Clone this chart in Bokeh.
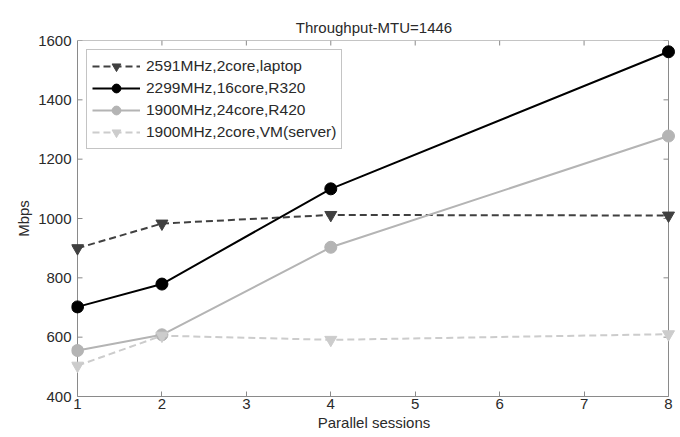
import math
from bokeh.plotting import figure
from bokeh.models import Range1d, FixedTicker, Legend, LegendItem
from bokeh.embed import file_html
from bokeh.resources import INLINE

sessions = [1, 2, 4, 8]
laptop = [900, 983, 1012, 1010]
r320 = [702, 779, 1100, 1562]
r420 = [555, 608, 903, 1278]
vm = [504, 605, 591, 610]

labels = ["2591MHz,2core,laptop", "2299MHz,16core,R320",
          "1900MHz,24core,R420", "1900MHz,2core,VM(server)"]
x_ticks = [1, 2, 3, 4, 5, 6, 7, 8]
y_ticks = [400, 600, 800, 1000, 1200, 1400, 1600]
x_lo, x_hi = 1, 8
y_lo, y_hi = 400, 1600

FONT = "Liberation Sans"
AX = "#8a8a8a"
TXT = "#2a2a2a"

# the frame is a few px wider than the axis box so edge markers are not clipped
PAD_L_PX, PAD_R_PX = 6, 8
BOX_PX = 591
unit = (x_hi - x_lo) / BOX_PX

p = figure(width=680, height=436, output_backend="svg", toolbar_location=None,
           x_range=Range1d(x_lo - PAD_L_PX * unit, x_hi + PAD_R_PX * unit),
           y_range=Range1d(y_lo, y_hi),
           min_border_left=71, min_border_right=4, min_border_top=40, min_border_bottom=40)
p.title.text = "Throughput-MTU=1446"
p.title.align = "center"
p.title.text_font = FONT
p.title.text_font_size = "15px"
p.title.text_font_style = "normal"
p.title.text_color = TXT
p.title.offset = 0
p.grid.visible = False
p.outline_line_color = None
p.background_fill_color = "white"

for ax in (p.xaxis[0], p.yaxis[0]):
    ax.axis_line_color = AX
    ax.major_tick_line_color = AX
    ax.major_tick_in = 5
    ax.major_tick_out = 0
    ax.minor_tick_line_color = None
    ax.major_label_text_font = FONT
    ax.major_label_text_font_size = "15px"
    ax.major_label_text_color = TXT
    ax.axis_label_text_font = FONT
    ax.axis_label_text_font_size = "15px"
    ax.axis_label_text_font_style = "normal"
    ax.axis_label_text_color = TXT
p.xaxis.ticker = FixedTicker(ticks=x_ticks)
p.yaxis.ticker = FixedTicker(ticks=y_ticks)
p.xaxis.bounds = (x_lo, x_hi)
p.yaxis.axis_line_color = None
p.yaxis.major_tick_line_color = None
p.xaxis.axis_label = "Parallel sessions"
p.yaxis.axis_label = "Mbps"
p.xaxis.major_label_standoff = 2
p.xaxis.axis_label_standoff = 2
p.yaxis.major_label_standoff = 0
p.yaxis.axis_label_standoff = 3

# box around the axes and inward ticks on its left, top and right sides
p.quad(left=[x_lo], right=[x_hi], bottom=[y_lo], top=[y_hi],
       fill_color=None, line_color=AX, line_width=1)
p.ray(x=[x_lo] * len(y_ticks), y=y_ticks, length=5, length_units="screen",
      angle=0, line_color=AX, line_width=1)
p.ray(x=x_ticks, y=[y_hi] * len(x_ticks), length=5, length_units="screen",
      angle=-math.pi / 2, line_color=AX, line_width=1)
p.ray(x=[x_hi] * len(y_ticks), y=y_ticks, length=5, length_units="screen",
      angle=math.pi, line_color=AX, line_width=1)

styles = [
    (laptop, "#404040", "7 4", "inverted_triangle"),
    (r320, "#000000", "solid", "circle"),
    (r420, "#b4b4b4", "solid", "circle"),
    (vm, "#cccccc", "7 4", "inverted_triangle"),
]
items = []
for (ys, col, dash, mk), lab in zip(styles, labels):
    l = p.line(sessions, ys, line_color=col, line_width=2, line_dash=dash)
    m = p.scatter(sessions, ys, marker=mk, size=12, fill_color=col, line_color=col)
    items.append(LegendItem(label=lab, renderers=[l, m]))

leg = Legend(items=items, location=(15, 247))
leg.label_text_font = FONT
leg.label_text_font_size = "15.5px"
leg.label_text_color = TXT
leg.glyph_width = 48
leg.glyph_height = 22
leg.label_height = 22
leg.spacing = 0
leg.padding = 5
leg.margin = 0
leg.label_standoff = 6
leg.border_line_color = AX
leg.border_line_width = 1
p.add_layout(leg)

open("out.html", "w").write(file_html(p, INLINE))
